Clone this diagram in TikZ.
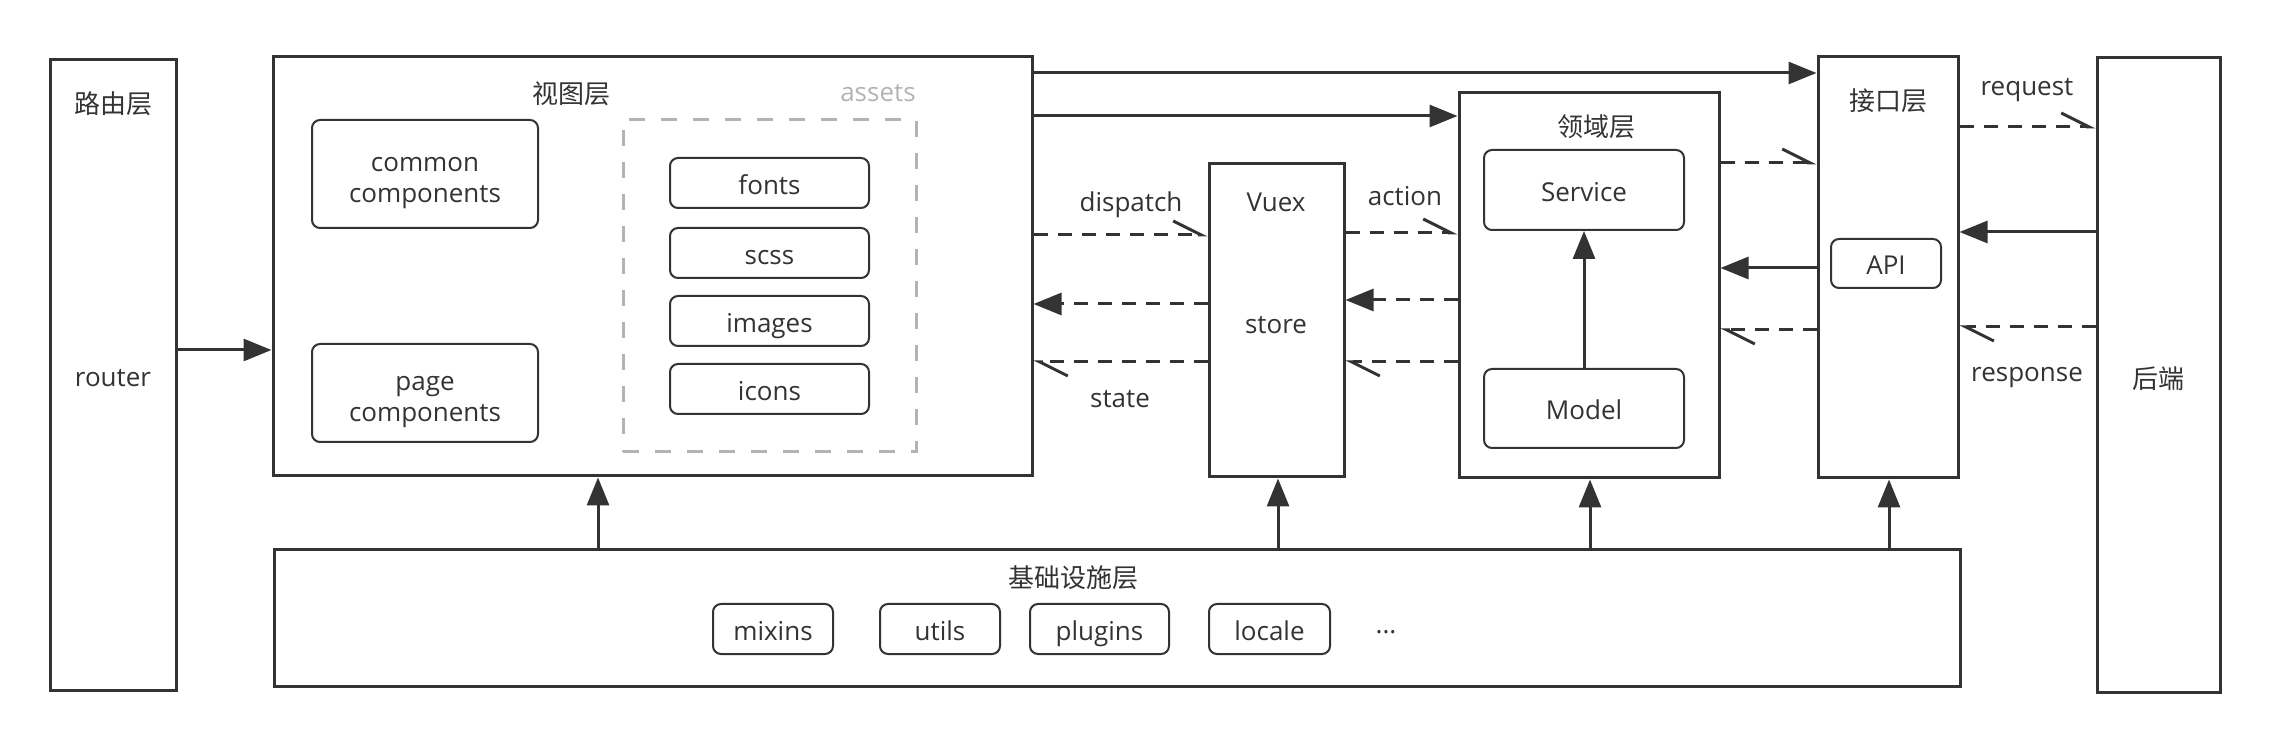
\documentclass[tikz,border=0pt]{standalone}
\usepackage{fontspec}
\setmainfont{Open Sans}
\newfontfamily\cjk{Noto Sans CJK SC}
\usetikzlibrary{arrows.meta,fit}
\definecolor{c33}{HTML}{333333}
\definecolor{cgray}{HTML}{B3B3B3}
\begin{document}
\begin{tikzpicture}[x=0.5pt,y=-0.5pt,font=\fontsize{13}{15.5}\selectfont,
  outer/.style={draw=c33,line width=1.5pt,inner sep=0pt},
  inbox/.style={draw=c33,line width=1pt,rounded corners=4pt,inner sep=0pt,text=c33,text height=14.5pt,text depth=3pt},
  twobox/.style={draw=c33,line width=1pt,rounded corners=4pt,inner sep=0pt},
  assetbox/.style={draw=cgray,line width=1.5pt,dash pattern=on 8pt off 8pt,inner sep=0pt},
  lbl/.style={text=c33,inner sep=0pt},
  twolbl/.style={text=c33,inner sep=0pt,align=center,yshift=-4.5pt},
  flow/.style={draw=c33,line width=1.5pt,-{Triangle[length=14pt,width=11pt]}},
  harp/.style={draw=c33,line width=1.5pt,-{Straight Barb[harpoon,length=14pt,width=14pt]}},
  dashline/.style={dash pattern=on 7pt off 5pt}]
\useasboundingbox (0,0) rectangle (2270,742);

% outer boxes
\node[outer,fit={(50,60)(176,690)}] (router) {};
\node[outer,fit={(273,57)(1032,476)}] (view) {};
\node[outer,fit={(1209,164)(1344,477)}] (vuex) {};
\node[outer,fit={(1459,93)(1719,478)}] (domain) {};
\node[outer,fit={(1818,57)(1958,478)}] (iface) {};
\node[outer,fit={(2097,58)(2220,692)}] (backend) {};
\node[outer,fit={(274,550)(1960,686)}] (infra) {};
\node[assetbox,fit={(623,120)(916,452)}] (assets) {};

% labels
\node[lbl] (lrouter) at (113,104) {\cjk 路由层};
\node[lbl] (lrouter2) at (113,378) {router};
\node[lbl] (lview) at (571,94) {\cjk 视图层};
\node[text=cgray,inner sep=0pt] (lassets) at (878,93) {assets};
\node[lbl] (lvuex) at (1276,202) {Vuex};
\node[lbl] (lstore) at (1276,325) {store};
\node[lbl] (ldomain) at (1596,127) {\cjk 领域层};
\node[lbl] (liface) at (1888,101) {\cjk 接口层};
\node[lbl] (lbackend) at (2158,379) {\cjk 后端};
\node[lbl] (linfra) at (1073,578) {\cjk 基础设施层};
\node[lbl] (ldots) at (1386,632) {...};

% inner boxes
\node[twobox,minimum width=113pt,minimum height=54pt,
  label={[twolbl]center:common\\components}] (common) at (425,174) {};
\node[twobox,minimum width=113pt,minimum height=49pt,
  label={[twolbl]center:page\\components}] (page) at (425,393) {};
\node[inbox,minimum width=99.5pt,minimum height=25pt] (fonts) at (769.5,183) {fonts};
\node[inbox,minimum width=99.5pt,minimum height=25pt] (scss) at (769.5,253) {scss};
\node[inbox,minimum width=99.5pt,minimum height=25pt] (images) at (769.5,321) {images};
\node[inbox,minimum width=99.5pt,minimum height=25pt] (icons) at (769.5,389) {icons};
\node[inbox,minimum width=100pt,minimum height=40pt] (service) at (1584,190) {Service};
\node[inbox,minimum width=100pt,minimum height=39.5pt] (model) at (1584,408.5) {Model};
\node[inbox,minimum width=55pt,minimum height=24.5pt] (api) at (1886,263.5) {API};
\node[inbox,minimum width=60pt,minimum height=25pt] (mixins) at (773,629) {mixins};
\node[inbox,minimum width=60pt,minimum height=25pt] (utils) at (940,629) {utils};
\node[inbox,minimum width=69.5pt,minimum height=25pt] (plugins) at (1099.5,629) {plugins};
\node[inbox,minimum width=60.5pt,minimum height=25pt] (locale) at (1269.5,629) {locale};

% connector labels
\node[lbl] (ldispatch) at (1131,205) {dispatch};
\node[lbl] (laction) at (1405,196) {action};
\node[lbl] (lstate) at (1120,399) {state};
\node[lbl] (lrequest) at (2027,90) {request};
\node[lbl] (lresponse) at (2027,378) {response};

% connectors
\draw[flow] (router.east |- 0,350) -- (view.west |- 0,350);
\draw[flow] (view.east |- 0,73) -- (iface.west |- 0,73);
\draw[flow] (view.east |- 0,116) -- (domain.west |- 0,116);

\draw[harp,dashline] (view.east |- 0,235) -- (vuex.west |- 0,235);
\draw[flow,dashline] (vuex.west |- 0,304) -- (view.east |- 0,304);
\draw[harp,dashline] (vuex.west |- 0,362) -- (view.east |- 0,362);

\draw[harp,dashline] (vuex.east |- 0,233) -- (domain.west |- 0,233);
\draw[flow,dashline] (domain.west |- 0,300) -- (vuex.east |- 0,300);
\draw[harp,dashline] (domain.west |- 0,362) -- (vuex.east |- 0,362);

\draw[harp,dashline] (domain.east |- 0,163) -- (iface.west |- 0,163);
\draw[flow] (iface.west |- 0,268) -- (domain.east |- 0,268);
\draw[harp,dashline] (iface.west |- 0,330) -- (domain.east |- 0,330);

\draw[harp,dashline] (iface.east |- 0,127) -- (backend.west |- 0,127);
\draw[flow] (backend.west |- 0,232) -- (iface.east |- 0,232);
\draw[harp,dashline] (backend.west |- 0,327) -- (iface.east |- 0,327);

\draw[flow] (model.north) -- (service.south);

\draw[flow] (infra.north -| 598,0) -- (view.south -| 598,0);
\draw[flow] (infra.north -| 1278,0) -- (vuex.south -| 1278,0);
\draw[flow] (infra.north -| 1590,0) -- (domain.south -| 1590,0);
\draw[flow] (infra.north -| 1889,0) -- (iface.south -| 1889,0);
\end{tikzpicture}
\end{document}
